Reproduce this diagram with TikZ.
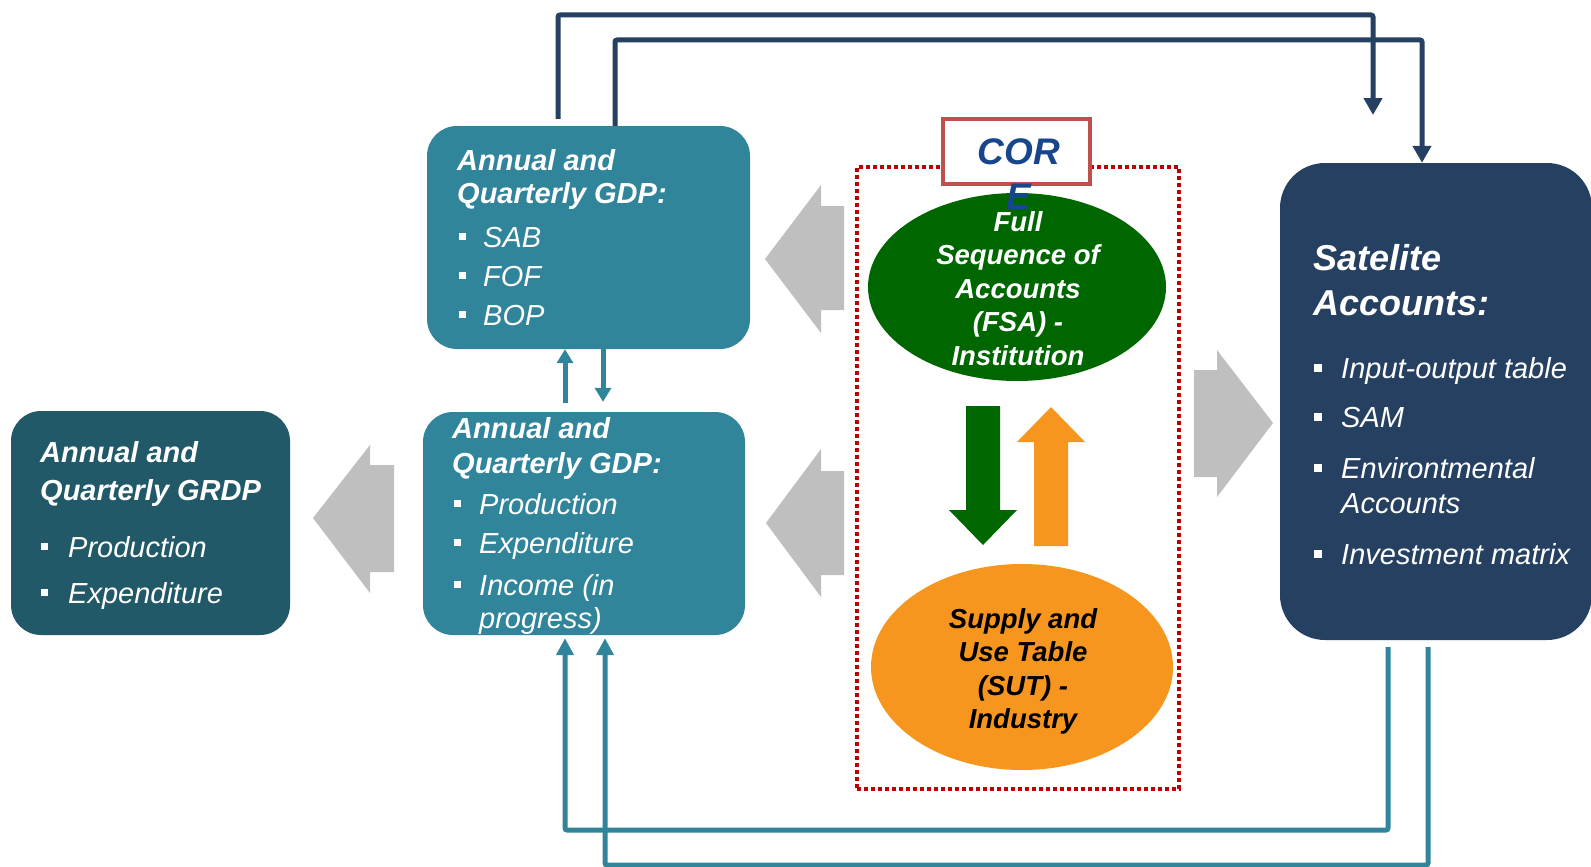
\documentclass[tikz,border=0pt]{standalone}
\usepackage{fontspec}
\setmainfont{Liberation Sans}
\usetikzlibrary{arrows.meta,shapes.geometric}
\definecolor{teal1}{RGB}{49,133,155}
\definecolor{darkteal}{RGB}{33,89,104}
\definecolor{navy}{RGB}{37,64,97}
\definecolor{fsagreen}{RGB}{0,102,0}
\definecolor{sutorange}{RGB}{247,150,30}
\definecolor{arrowgray}{RGB}{191,191,191}
\definecolor{dotred}{RGB}{192,0,0}
\definecolor{coreborder}{RGB}{192,80,77}
\definecolor{coreblue}{RGB}{23,70,140}
\begin{document}
\begin{tikzpicture}[x=1pt,y=-1pt,
  box/.style={rectangle, rounded corners=30pt, inner sep=0pt, draw=none},
  ttl/.style={anchor=base west, inner sep=0pt, text=white, font=\fontsize{29}{35}\selectfont\bfseries\itshape},
  bigttl/.style={anchor=base west, inner sep=0pt, text=white, font=\fontsize{36}{44}\selectfont\bfseries\itshape},
  itm/.style={anchor=base west, inner sep=0pt, text=white, font=\fontsize{29}{35}\selectfont\itshape},
  ell/.style={ellipse, inner sep=0pt, draw=none},
  elltext/.style={align=center, inner sep=0pt, font=\fontsize{27.5}{33.5}\selectfont\bfseries\itshape},
  navyconn/.style={draw=navy, line width=5pt, rounded corners=2pt, -{Triangle[length=17pt,width=18pt]}},
  tealconn/.style={draw=teal1, line width=5pt, rounded corners=2pt, -{Triangle[length=17pt,width=17pt]}},
  smallarr/.style={draw=teal1, line width=5pt, -{Triangle[length=14pt,width=16pt]}},
  bigarrow/.style={fill=arrowgray, draw=none}
]
\useasboundingbox (0,0) rectangle (1591,867);
\fill[white] (0,0) rectangle (1591,867);

% boxes
\node[box, fill=teal1, minimum width=323pt, minimum height=223pt] (gdpq) at (588.5,237.5) {};
\node[box, fill=teal1, minimum width=322pt, minimum height=223pt] (gdp) at (584,523.5) {};
\node[box, fill=darkteal, minimum width=279pt, minimum height=224pt] (grdp) at (150.5,523) {};
\node[box, fill=navy, rounded corners=45pt, minimum width=312pt, minimum height=477pt] (sat) at (1436,401.5) {};

% core region
\node[rectangle, draw=dotred, line width=4pt, dash pattern=on 4pt off 3pt, minimum width=322pt, minimum height=622pt, inner sep=0pt] (core) at (1018,478) {};
\node[ell, fill=fsagreen, minimum width=298pt, minimum height=188pt] (fsa) at (1017,287) {};
\node[ell, fill=sutorange, minimum width=302pt, minimum height=206pt] (sut) at (1022,667) {};
\node[elltext, text=white] (fsatext) at (1018,288.5) {Full\\Sequence of\\Accounts\\(FSA) -\\Institution};
\node[elltext, text=black] (suttext) at (1023,671.5) {Supply and\\Use Table\\(SUT) -\\Industry};
\node[rectangle, draw=coreborder, fill=white, line width=4pt, minimum width=147pt, minimum height=65pt, inner sep=0pt] (corelabel) at (1016.5,151.5) {};
\node[align=center, inner sep=0pt, text=coreblue, font=\fontsize{37}{45}\selectfont\bfseries\itshape] (coretext) at (1019,174) {COR\\E};

% green / orange arrows
\fill[fsagreen] (966,406) -- (1000,406) -- (1000,510) -- (1017,510) -- (983,545) -- (949,510) -- (966,510) -- cycle;
\fill[sutorange] (1034,546) -- (1068,546) -- (1068,442) -- (1085,442) -- (1051,407) -- (1017,442) -- (1034,442) -- cycle;

% gray block arrows
\fill[bigarrow] (765,259) -- (821,185) -- (821,206) -- (844,206) -- (844,310) -- (821,310) -- (821,333) -- cycle;
\fill[bigarrow] (766,523) -- (821,449) -- (821,471) -- (844,471) -- (844,575) -- (821,575) -- (821,597) -- cycle;
\fill[bigarrow] (313,518) -- (370,445) -- (370,465) -- (394,465) -- (394,572) -- (370,572) -- (370,593) -- cycle;
\fill[bigarrow] (1194,370) -- (1217,370) -- (1217,350) -- (1273,423) -- (1217,497) -- (1217,477) -- (1194,477) -- cycle;

% top connectors
\coordinate (ax) at (558,15);
\coordinate (ay) at (1373,15);
\coordinate (aend) at (1373,115);
\draw[navyconn, shorten <=7pt] (ax |- gdpq.north) -- (ax) -- (ay) -- (aend);
\coordinate (bx) at (615,40);
\coordinate (by) at (1422,40);
\draw[navyconn] (bx |- gdpq.north) -- (bx) -- (by) -- (by |- sat.north);

% bottom connectors
\coordinate (cx) at (1388,830);
\coordinate (cy) at (565,830);
\draw[tealconn, shorten <=7pt, shorten >=3pt] (cx |- sat.south) -- (cx) -- (cy) -- (cy |- gdp.south);
\coordinate (dx) at (1428,865);
\coordinate (dy) at (605,865);
\draw[tealconn, shorten <=7pt, shorten >=3pt] (dx |- sat.south) -- (dx) -- (dy) -- (dy |- gdp.south);

% small arrows between GDP boxes
\coordinate (ux) at (565,380);
\coordinate (vx) at (603,380);
\draw[smallarr, shorten <=9pt] (ux |- gdp.north) -- (ux |- gdpq.south);
\draw[smallarr, shorten >=10pt] (vx |- gdpq.south) -- (vx |- gdp.north);

% texts box 1
\node[ttl] (g1t1) at (457,170) {Annual and};
\node[ttl] (g1t2) at (457,203) {Quarterly GDP:};
\node[itm] (g1i1) at (483,247) {SAB};
\node[itm] (g1i2) at (483,286) {FOF};
\node[itm] (g1i3) at (483,325) {BOP};
\fill[white] (458.5,233.1) rectangle +(7,7);
\fill[white] (458.5,272.1) rectangle +(7,7);
\fill[white] (458.5,311.1) rectangle +(7,7);

% texts box 2
\node[ttl] (g2t1) at (452,438) {Annual and};
\node[ttl] (g2t2) at (452,473) {Quarterly GDP:};
\node[itm] (g2i1) at (479,514) {Production};
\node[itm] (g2i2) at (479,553) {Expenditure};
\node[itm] (g2i3) at (479,595) {Income (in};
\node[itm] (g2i4) at (479,628) {progress)};
\fill[white] (453.5,500.1) rectangle +(7,7);
\fill[white] (453.5,539.1) rectangle +(7,7);
\fill[white] (453.5,581.1) rectangle +(7,7);

% texts GRDP
\node[ttl] (g3t1) at (40,462) {Annual and};
\node[ttl] (g3t2) at (40,500) {Quarterly GRDP};
\node[itm] (g3i1) at (68,557) {Production};
\node[itm] (g3i2) at (68,603) {Expenditure};
\fill[white] (40.5,543.1) rectangle +(7,7);
\fill[white] (40.5,589.1) rectangle +(7,7);

% texts satellite
\node[bigttl] (s1) at (1313,270) {Satelite};
\node[bigttl] (s2) at (1313,315) {Accounts:};
\node[itm] (si1) at (1341,378) {Input-output table};
\node[itm] (si2) at (1341,427) {SAM};
\node[itm] (si3) at (1341,478) {Environtmental};
\node[itm] (si4) at (1341,513) {Accounts};
\node[itm] (si5) at (1341,564) {Investment matrix};
\fill[white] (1313.5,363.6) rectangle +(8,8);
\fill[white] (1313.5,412.6) rectangle +(8,8);
\fill[white] (1313.5,463.6) rectangle +(8,8);
\fill[white] (1313.5,549.6) rectangle +(8,8);
\end{tikzpicture}
\end{document}
